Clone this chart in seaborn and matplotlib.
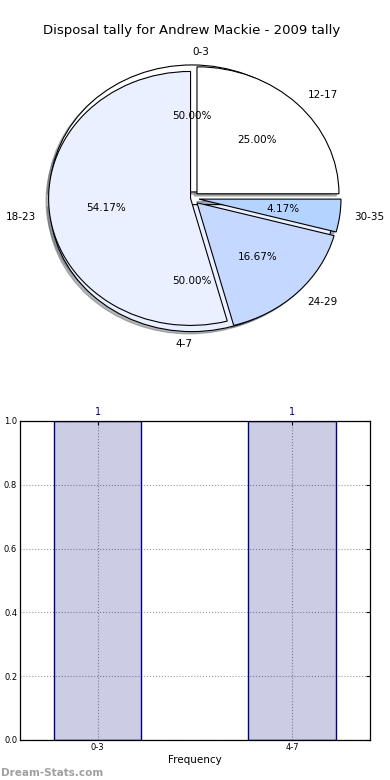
import matplotlib
matplotlib.use("Agg")
import matplotlib.pyplot as plt
import seaborn as sns

# Data
freq_labels = ["0-3", "4-7"]
freq_values = [1, 1]
freq_pcts = ["50.00%", "50.00%"]

tally_labels = ["12-17", "30-35", "24-29", "18-23"]
tally_values = [6, 1, 4, 13]

freq_colors = ["#ffffff", "#eaf0ff"]
tally_colors = ["#ffffff", "#b4d4ff", "#c5d8ff", "#eaf0ff"]

sns.set_style("white")
plt.rcParams["font.family"] = ["DejaVu Sans"]
plt.rcParams["text.color"] = "black"
plt.rcParams["axes.labelcolor"] = "black"
plt.rcParams["xtick.color"] = "black"
plt.rcParams["ytick.color"] = "black"

fig = plt.figure(figsize=(3.9, 7.8), dpi=100)

# Pie (two pies drawn on the same axes)
ax1 = fig.add_axes([0.0372, 0.5423, 0.910, 0.407])
wedgeprops = {"edgecolor": "black", "linewidth": 0.8}
shadow = {"ox": -0.013, "oy": -0.013, "shade": 0.55}

w1, t1, a1 = ax1.pie(freq_values, labels=freq_labels, colors=freq_colors,
                     autopct="%1.2f%%", shadow=shadow, explode=[0.05, 0.05],
                     wedgeprops=wedgeprops, textprops={"fontsize": 7.5, "color": "black"})
for txt, p in zip(a1, freq_pcts):
    txt.set_text(p)
t1[0].set_ha("left")
t1[1].set_ha("right")

w2, t2, a2 = ax1.pie(tally_values, labels=tally_labels, colors=tally_colors,
                     autopct="%1.2f%%", shadow=shadow, startangle=90,
                     counterclock=False, explode=[0.05, 0.05, 0.05, 0.01],
                     wedgeprops=wedgeprops, textprops={"fontsize": 7.5, "color": "black"})

ax1.set_aspect("auto")
ax1.set_xlim(-1.25, 1.25)
ax1.set_ylim(-1.25, 1.25)
ax1.set_title("Disposal tally for Andrew Mackie - 2009 tally", fontsize=9.5, pad=4)

# Bar chart
ax2 = fig.add_axes([0.0513, 0.0513, 0.897, 0.409])
sns.barplot(x=freq_labels, y=freq_values, width=0.45, ax=ax2, saturation=1,
            color="navy", edgecolor="navy", linewidth=1, zorder=2)
for bar in ax2.patches:
    bar.set_facecolor((0, 0, 0.5, 0.2))
    bar.set_edgecolor("navy")

for i, v in enumerate(freq_values):
    ax2.text(i, v + 0.012, str(v), ha="center", va="bottom", color="navy", fontsize=7)

ax2.set_xlim(-0.4, 1.4)
ax2.set_ylim(0, 1.0)
ax2.set_yticks([0.0, 0.2, 0.4, 0.6, 0.8, 1.0])
ax2.set_yticklabels(["0.0", "0.2", "0.4", "0.6", "0.8", "1.0"])
ax2.grid(True, linestyle=":", color="gray", linewidth=0.8, alpha=0.8)
ax2.set_axisbelow(True)
ax2.tick_params(axis="both", labelsize=6, direction="in", length=3,
                top=True, right=True, pad=2)
ax2.set_xlabel("Frequency", fontsize=7.5, labelpad=2)
for s in ax2.spines.values():
    s.set_visible(True)
    s.set_color("black")
    s.set_linewidth(0.9)

fig.text(0.003, 0.003, "Dream-Stats.com", color="#a0a0a0", fontsize=7.5,
         fontweight="bold", ha="left", va="bottom")

fig.savefig("out.png", dpi=100)
